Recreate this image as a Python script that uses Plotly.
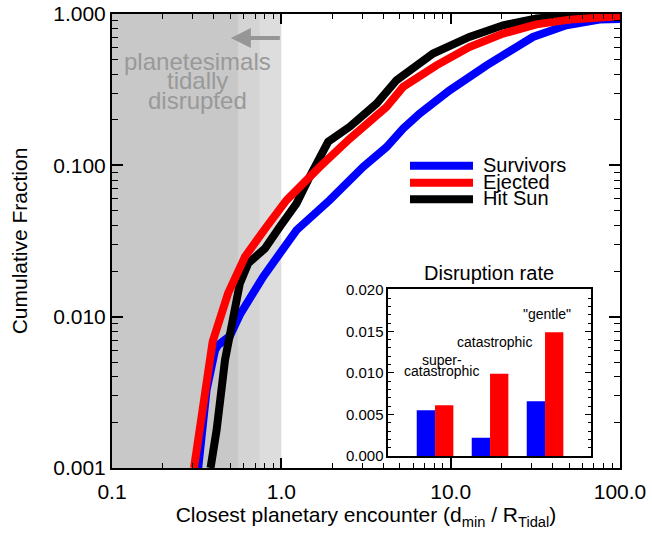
import plotly.graph_objects as go

# ---------------- data ----------------
series_names = ["Survivors", "Ejected", "Hit Sun"]
series_colors = ["#0000ff", "#ff0000", "#000000"]

surv_x = [0.323, 0.362, 0.406, 0.424, 0.497, 0.569, 0.782, 1.03, 1.23, 1.93, 3.04,
          4.18, 5.24, 6.56, 9.86, 16.3, 30.6, 48.2, 75.7, 100.0]
surv_y = [0.001, 0.00328, 0.0060, 0.0065, 0.00746, 0.0103, 0.0184, 0.0275, 0.0373, 0.0589, 0.0977,
          0.132, 0.175, 0.220, 0.313, 0.458, 0.705, 0.842, 0.918, 0.925]

ejec_x = [0.305, 0.393, 0.485, 0.610, 0.818, 1.074, 1.686, 2.535, 4.18, 5.24, 8.24,
          12.9, 20.4, 32.1, 50.4, 79.1, 100.0]
ejec_y = [0.001, 0.00684, 0.0143, 0.0249, 0.0393, 0.0589, 0.0977, 0.150, 0.243, 0.330, 0.458,
          0.605, 0.742, 0.855, 0.918, 0.955, 0.965]

hit_x = [0.382, 0.415, 0.465, 0.520, 0.569, 0.637, 0.800, 0.98, 1.23, 1.47, 1.89, 2.535,
         3.65, 4.79, 7.87, 12.9, 20.4, 32.1, 50.4, 100.0]
hit_y = [0.001, 0.00179, 0.00518, 0.0100, 0.0166, 0.0225, 0.0282, 0.0393, 0.0561, 0.0840, 0.143, 0.180,
         0.256, 0.365, 0.548, 0.705, 0.842, 0.933, 0.980, 1.0]

x_tickvals = [0.1, 1.0, 10.0, 100.0]
x_ticktext = ["0.1", "1.0", "10.0", "100.0"]
y_tickvals = [0.001, 0.01, 0.1, 1.0]
y_ticktext = ["0.001", "0.010", "0.100", "1.000"]

# tidal-disruption shaded zones (upper edges in d_min/R_Tidal)
zone_edges = [0.746, 0.553]
zone_full = 1.0
zone_colors = ["#dddddd", "#d4d4d4", "#c8c8c8"]

# inset: disruption rate
bar_groups = [0, 1, 2]
bar_labels = ["super-\ncatastrophic", "catastrophic", "\"gentle\""]
bar_surv = [0.0055, 0.0022, 0.0066]
bar_ejec = [0.0061, 0.0099, 0.0149]
inset_tickvals = [0.0, 0.005, 0.010, 0.015, 0.020]
inset_ticktext = ["0.000", "0.005", "0.010", "0.015", "0.020"]

FONT = "Liberation Sans, Arial, Helvetica, sans-serif"
GRAY = "#999999"

# minor tick positions (log decades 2..9)
x_minor = [m * 10.0 ** e for e in (-1, 0, 1) for m in range(2, 10)]
y_minor = [m * 10.0 ** e for e in (-3, -2, -1) for m in range(2, 10)]
inset_minor = [i * 0.001 for i in range(0, 21) if i % 5 != 0]

fig = go.Figure()

# main curves (drawn: survivors, hit sun, ejected on top)
fig.add_trace(go.Scatter(x=surv_x, y=surv_y, mode="lines", name=series_names[0],
                         line=dict(color=series_colors[0], width=8), showlegend=False))
fig.add_trace(go.Scatter(x=hit_x, y=hit_y, mode="lines", name=series_names[2],
                         line=dict(color=series_colors[2], width=8), showlegend=False))
fig.add_trace(go.Scatter(x=ejec_x, y=ejec_y, mode="lines", name=series_names[1],
                         line=dict(color=series_colors[1], width=8), showlegend=False))

# inset bars
fig.add_trace(go.Bar(x=bar_groups, y=bar_surv, width=0.333, offset=-0.333,
                     marker=dict(color=series_colors[0], line=dict(width=0)),
                     xaxis="x2", yaxis="y2", showlegend=False))
fig.add_trace(go.Bar(x=bar_groups, y=bar_ejec, width=0.333, offset=0.0,
                     marker=dict(color=series_colors[1], line=dict(width=0)),
                     xaxis="x2", yaxis="y2", showlegend=False))

shapes = []
# shaded zones
shapes.append(dict(type="rect", xref="x", yref="paper", x0=0.1, x1=zone_full, y0=0, y1=1,
                   fillcolor=zone_colors[0], line=dict(width=0), layer="below"))
for edge, col in zip(zone_edges, zone_colors[1:]):
    shapes.append(dict(type="rect", xref="x", yref="paper", x0=0.1, x1=edge, y0=0, y1=1,
                       fillcolor=col, line=dict(width=0), layer="below"))

# manual legend
leg_y = [0.6659, 0.6284, 0.5919]
annotations = []
for name, col, yy in zip(series_names, series_colors, leg_y):
    shapes.append(dict(type="line", xref="paper", yref="paper", x0=0.5866, x1=0.7106,
                       y0=yy, y1=yy, line=dict(color=col, width=8)))
    annotations.append(dict(text=name, xref="paper", yref="paper", x=0.7264, y=yy + 0.002,
                            xanchor="left", yanchor="middle", showarrow=False,
                            font=dict(size=20, color="black", family=FONT)))

# arrow
annotations.append(dict(text="", xref="x", yref="paper", x=-0.298, y=0.947,
                        axref="x", ax=0.0, ayref="pixel", ay=0,
                        showarrow=True, arrowhead=2, arrowsize=1.0, arrowwidth=4,
                        arrowcolor="#969696"))
# zone text
for txt, yy in zip(["planetesimals", "tidally", "disrupted"], [0.895, 0.853, 0.809]):
    annotations.append(dict(text=txt, xref="x", yref="paper", x=-0.493, y=yy,
                            xanchor="center", yanchor="middle", showarrow=False,
                            font=dict(size=24, color=GRAY, family=FONT)))

# inset title
annotations.append(dict(text="Disruption rate", xref="paper", yref="paper", x=0.7431, y=0.4295,
                        xanchor="center", yanchor="middle", showarrow=False,
                        font=dict(size=20, color="black", family=FONT)))
# inset labels
inset_lab_pos = [(0.12, [0.0116, 0.0102]), (1.09, [0.01369]), (2.04, [0.01713])]
for lab, (xx, ys) in zip(bar_labels, inset_lab_pos):
    for line, yy in zip(lab.split("\n"), ys):
        annotations.append(dict(text=line, xref="x2", yref="y2", x=xx, y=yy,
                                xanchor="center", yanchor="middle", showarrow=False,
                                font=dict(size=14, color="black", family=FONT)))

fig.update_layout(
    width=652, height=533,
    margin=dict(l=112, r=32, t=14, b=65, pad=0),
    paper_bgcolor="white", plot_bgcolor="white",
    font=dict(family=FONT, color="black"),
    showlegend=False,
    shapes=shapes, annotations=annotations,
    xaxis=dict(type="log", range=[-1, 2], tickvals=x_tickvals, ticktext=x_ticktext,
               ticks="inside", ticklen=10, tickwidth=1.5, tickcolor="black",
               minor=dict(tickmode="array", tickvals=x_minor, ticks="inside", ticklen=5,
                          tickwidth=1.2, tickcolor="black", showgrid=False),
               showline=True, linewidth=2, linecolor="black", mirror="allticks",
               showgrid=False, zeroline=False, ticklabelstandoff=4, automargin=False,
               tickfont=dict(size=21, family=FONT, color="black"),
               title=dict(text="Closest planetary encounter (d<sub>min</sub> / R<sub>Tidal</sub>)",
                          font=dict(size=21, family=FONT, color="black"), standoff=0)),
    yaxis=dict(type="log", range=[-3, 0], tickvals=y_tickvals, ticktext=y_ticktext,
               ticks="inside", ticklen=11, tickwidth=1.5, tickcolor="black",
               minor=dict(tickmode="array", tickvals=y_minor, ticks="inside", ticklen=6,
                          tickwidth=1.2, tickcolor="black", showgrid=False),
               showline=True, linewidth=2, linecolor="black", mirror="allticks",
               showgrid=False, zeroline=False, automargin=False,
               tickfont=dict(size=21, family=FONT, color="black"),
               title=dict(text="Cumulative Fraction",
                          font=dict(size=21, family=FONT, color="black"), standoff=20)),
    xaxis2=dict(domain=[0.5439, 0.9423], anchor="y2", range=[-0.85, 2.83],
                showticklabels=False, ticks="", showline=True, linewidth=1.5,
                linecolor="black", mirror=True, showgrid=False, zeroline=False,
                automargin=False),
    yaxis2=dict(domain=[0.0264, 0.3943], anchor="x2", range=[0, 0.0201],
                tickvals=inset_tickvals, ticktext=inset_ticktext,
                ticks="inside", ticklen=6, tickwidth=1, tickcolor="black",
                minor=dict(tickmode="array", tickvals=inset_minor, ticks="inside", ticklen=3,
                           tickwidth=1, tickcolor="black", showgrid=False),
                showline=True, linewidth=1.5, linecolor="black", mirror="allticks",
                showgrid=False, zeroline=False, automargin=False,
                tickfont=dict(size=15, family=FONT, color="black")),
)

# remove the browser's default 8px page margin so the figure fills the window
fig.write_html("out.html", config={"displayModeBar": False},
               post_script="document.body.style.margin='0';")
